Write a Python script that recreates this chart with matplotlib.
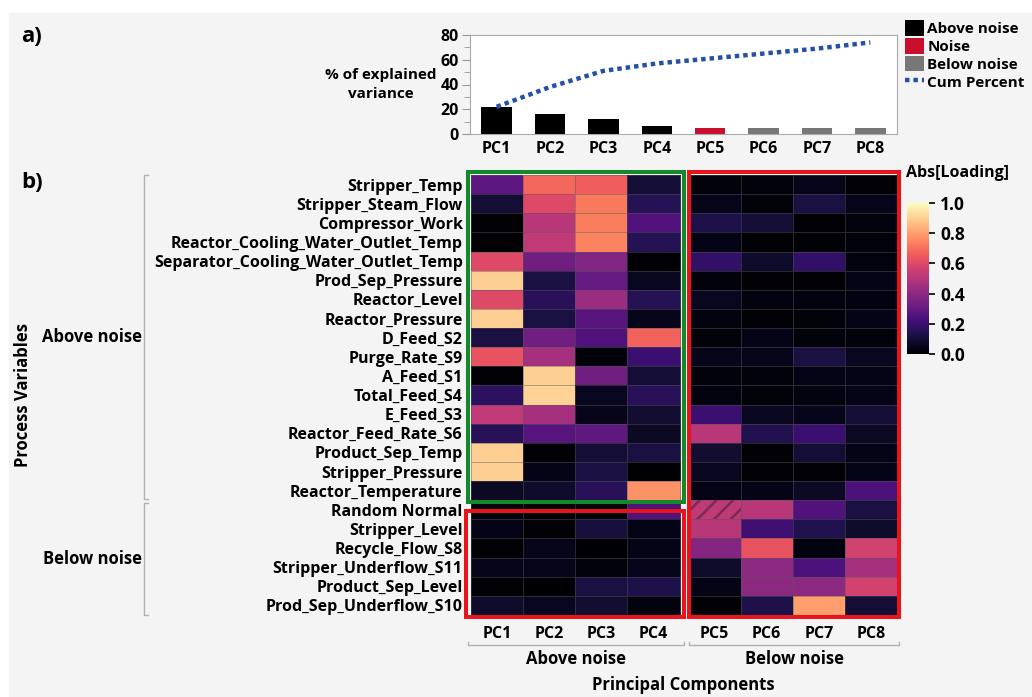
import matplotlib
matplotlib.use("Agg")
import matplotlib.pyplot as plt
import numpy as np
from matplotlib.patches import Rectangle, Patch
from matplotlib.lines import Line2D
from matplotlib.transforms import blended_transform_factory

plt.rcParams['font.family'] = ['Open Sans', 'DejaVu Sans']
plt.rcParams['font.weight'] = 'bold'
plt.rcParams['axes.labelweight'] = 'bold'
plt.rcParams['hatch.linewidth'] = 1.8

# ------------------------------------------------------------------ data
pcs = ["PC1", "PC2", "PC3", "PC4", "PC5", "PC6", "PC7", "PC8"]
variance = [22.2, 16.2, 12.2, 6.2, 5.1, 4.9, 4.9, 4.9]
cum_percent = [22, 38, 51, 57, 61, 65, 69, 74]
bar_group = ["Above noise"] * 4 + ["Noise"] + ["Below noise"] * 3
group_colors = {"Above noise": "#000000", "Noise": "#c8102e", "Below noise": "#777777"}

above_vars = ["Stripper_Temp", "Stripper_Steam_Flow", "Compressor_Work",
              "Reactor_Cooling_Water_Outlet_Temp", "Separator_Cooling_Water_Outlet_Temp",
              "Prod_Sep_Pressure", "Reactor_Level", "Reactor_Pressure", "D_Feed_S2",
              "Purge_Rate_S9", "A_Feed_S1", "Total_Feed_S4", "E_Feed_S3",
              "Reactor_Feed_Rate_S6", "Product_Sep_Temp", "Stripper_Pressure",
              "Reactor_Temperature"]
below_vars = ["Random Normal", "Stripper_Level", "Recycle_Flow_S8",
              "Stripper_Underflow_S11", "Product_Sep_Level", "Prod_Sep_Underflow_S10"]

above_loadings = [
    [0.28, 0.68, 0.66, 0.10, 0.02, 0.02, 0.05, 0.01],
    [0.10, 0.60, 0.72, 0.15, 0.05, 0.02, 0.12, 0.05],
    [0.01, 0.50, 0.73, 0.25, 0.13, 0.10, 0.01, 0.03],
    [0.01, 0.52, 0.74, 0.15, 0.04, 0.01, 0.01, 0.02],
    [0.60, 0.33, 0.37, 0.01, 0.18, 0.08, 0.18, 0.03],
    [0.90, 0.12, 0.30, 0.06, 0.02, 0.01, 0.01, 0.04],
    [0.60, 0.16, 0.43, 0.15, 0.06, 0.03, 0.03, 0.03],
    [0.90, 0.12, 0.27, 0.05, 0.03, 0.01, 0.02, 0.04],
    [0.12, 0.33, 0.25, 0.67, 0.02, 0.04, 0.02, 0.02],
    [0.63, 0.46, 0.02, 0.20, 0.05, 0.05, 0.12, 0.06],
    [0.01, 0.90, 0.33, 0.10, 0.02, 0.02, 0.04, 0.04],
    [0.17, 0.91, 0.06, 0.16, 0.03, 0.02, 0.03, 0.04],
    [0.52, 0.46, 0.05, 0.09, 0.20, 0.06, 0.05, 0.10],
    [0.16, 0.27, 0.29, 0.07, 0.50, 0.14, 0.20, 0.07],
    [0.90, 0.01, 0.10, 0.12, 0.09, 0.01, 0.10, 0.04],
    [0.90, 0.04, 0.12, 0.00, 0.06, 0.01, 0.01, 0.04],
    [0.07, 0.08, 0.16, 0.77, 0.04, 0.04, 0.07, 0.24],
]
below_loadings = [
    [0.02, 0.01, 0.02, 0.25, 0.52, 0.50, 0.25, 0.12],
    [0.04, 0.01, 0.11, 0.04, 0.50, 0.21, 0.14, 0.08],
    [0.01, 0.05, 0.00, 0.04, 0.38, 0.63, 0.03, 0.57],
    [0.05, 0.05, 0.02, 0.05, 0.08, 0.40, 0.24, 0.46],
    [0.01, 0.00, 0.12, 0.13, 0.04, 0.40, 0.40, 0.57],
    [0.08, 0.06, 0.09, 0.03, 0.01, 0.13, 0.80, 0.10],
]
hatched_cell = ("Random Normal", "PC5")

# ---------------------------------------------------------------- layout
W, H = 1032, 697
fx = lambda px: px / W
fy = lambda py: 1 - py / H

fig = plt.figure(figsize=(W / 100, H / 100), dpi=100)
fig.patch.set_facecolor("white")
fig.add_artist(Rectangle((fx(9), 0), 1 - fx(9), fy(13), transform=fig.transFigure,
                         color="#f4f4f4", zorder=-10))

GREEN, RED = "#13892b", "#e8141c"
FS = 11.5

# ------------------------------------------------------------- panel a)
ax = fig.add_axes([fx(470), fy(134), fx(897) - fx(470), fy(35) - fy(134)])
x = np.arange(len(pcs))
ax.bar(x, variance, width=0.57, color=[group_colors[g] for g in bar_group])
ax.plot(x, cum_percent, color="#2450a8", lw=3.2, ls=(0, (1, 0.9)),
        dash_capstyle="butt")
ax.set_xlim(-0.5, len(pcs) - 0.5)
ax.set_ylim(0, 80)
ax.set_yticks([0, 20, 40, 60, 80])
ax.set_yticks([10, 30, 50, 70], minor=True)
ax.set_xticks(x, pcs)
ax.tick_params(axis="x", length=0, pad=5, labelsize=FS)
ax.tick_params(axis="y", which="major", length=6, color="#999999", labelsize=FS, pad=2)
ax.tick_params(axis="y", which="minor", length=4, color="#999999")
for s in ax.spines.values():
    s.set_color("#aaaaaa")
ax.set_facecolor("white")
ax.set_ylabel("% of explained\nvariance", rotation=0, fontsize=11, va="center",
              ha="center", linespacing=1.45)
ax.yaxis.set_label_coords(-0.208, 0.50)

handles = [Patch(facecolor=group_colors[k], label=k) for k in group_colors]
handles.append(Line2D([], [], color="#2450a8", lw=3.2, ls=(0, (1, 0.9)), label="Cum Percent"))
fig.legend(handles=handles, loc="upper left", bbox_to_anchor=(fx(899), fy(14)),
           frameon=False, fontsize=11, handlelength=1.25, handleheight=1.2,
           handletextpad=0.2, labelspacing=0.12, borderaxespad=0)

fig.text(fx(21), fy(36), "a)", fontsize=16, va="center", ha="left")

# ------------------------------------------------------------- panel b)
variables = above_vars + below_vars
loadings = np.array(above_loadings + below_loadings)
n_rows, n_cols = loadings.shape
gap = 0.17
hm = fig.add_axes([fx(471), fy(615), fx(897) - fx(471), fy(175) - fy(615)])
hm.set_facecolor("none")
y_edges = np.arange(n_rows + 1)
left_edges = np.arange(5)
right_edges = np.arange(4, 9) + gap
cell_edge = dict(edgecolors=(0.35, 0.35, 0.35, 0.45), linewidth=0.5)
mesh = hm.pcolormesh(left_edges, y_edges, loadings[:, :4], cmap="magma",
                     vmin=0, vmax=1, **cell_edge)
hm.pcolormesh(right_edges, y_edges, loadings[:, 4:], cmap="magma",
              vmin=0, vmax=1, **cell_edge)

# hatched cell
r = variables.index(hatched_cell[0])
c = pcs.index(hatched_cell[1])
cx0 = c + (gap if c >= 4 else 0)
hm.add_patch(Rectangle((cx0, r), 1, 1, facecolor="none", edgecolor="#7b2a52",
                       hatch="//", lw=0))

hm.set_xlim(0, n_cols + gap)
hm.set_ylim(n_rows, 0)
centers = np.r_[np.arange(4) + 0.5, np.arange(4, 8) + 0.5 + gap]
hm.set_xticks(centers, pcs)
hm.set_yticks(np.arange(n_rows) + 0.5, variables)
hm.tick_params(length=0, labelsize=FS)
hm.tick_params(axis="x", pad=8)
hm.tick_params(axis="y", pad=6)
for s in hm.spines.values():
    s.set_visible(False)

# group boxes
na = len(above_vars)
box = dict(fill=False, lw=2.9, clip_on=False, zorder=5)
hm.add_patch(Rectangle((-0.06, -0.16), 4.14, na + 0.25, edgecolor=GREEN, **box))
hm.add_patch(Rectangle((-0.09, na + 0.56), 4.17, n_rows - na - 0.46, edgecolor=RED, **box))
hm.add_patch(Rectangle((4 + gap + 0.01, -0.16), 4.03, n_rows + 0.26, edgecolor=RED, **box))

# left group brackets
ty = blended_transform_factory(fig.transFigure, hm.transData)
bx = fx(144)
for y0, y1, label in [(0.0, na - 0.05, "Above noise"), (na + 0.15, n_rows, "Below noise")]:
    fig.add_artist(Line2D([bx + 0.004, bx, bx, bx + 0.004], [y0, y0, y1, y1],
                          transform=ty, color="#b0b0b0", lw=1.0))
    fig.text(fx(142), (y0 + y1) / 2, label, transform=ty, ha="right", va="center",
             fontsize=FS + 0.5)

# bottom group brackets
tx = blended_transform_factory(hm.transData, fig.transFigure)
by = fy(645)
for x0, x1, label in [(-0.05, 4.08, "Above noise"), (4 + gap + 0.02, 8 + gap + 0.03, "Below noise")]:
    fig.add_artist(Line2D([x0, x0, x1, x1], [by + 0.004, by, by, by + 0.004],
                          transform=tx, color="#b0b0b0", lw=1.0))
    fig.text((x0 + x1) / 2, fy(659), label, transform=tx, ha="center", va="center",
             fontsize=FS + 0.5)

fig.text(fx(683), fy(685), "Principal Components", ha="center", va="center", fontsize=FS + 0.5)
fig.text(fx(23), fy(395), "Process Variables", rotation=90, ha="center", va="center",
         fontsize=FS + 0.5)
fig.text(fx(21), fy(183), "b)", fontsize=16, va="center", ha="left")

# colorbar
cax = fig.add_axes([fx(907), fy(354), fx(929) - fx(907), fy(203) - fy(354)])
cb = fig.colorbar(mesh, cax=cax, ticks=[0, 0.2, 0.4, 0.6, 0.8, 1.0])
cb.outline.set_visible(False)
cb.ax.set_yticklabels([f"{t:.1f}" for t in cb.get_ticks()])
cb.ax.tick_params(length=4, width=1.2, labelsize=FS + 1, pad=4)
cmap = plt.get_cmap("magma")
for t, line in zip(cb.get_ticks(), cb.ax.yaxis.get_ticklines()[1::2]):
    line.set_color(cmap(t))
fig.text(fx(906), fy(173), "Abs[Loading]", ha="left", va="center", fontsize=FS)

plt.savefig("out.png", dpi=100, facecolor=fig.get_facecolor())
